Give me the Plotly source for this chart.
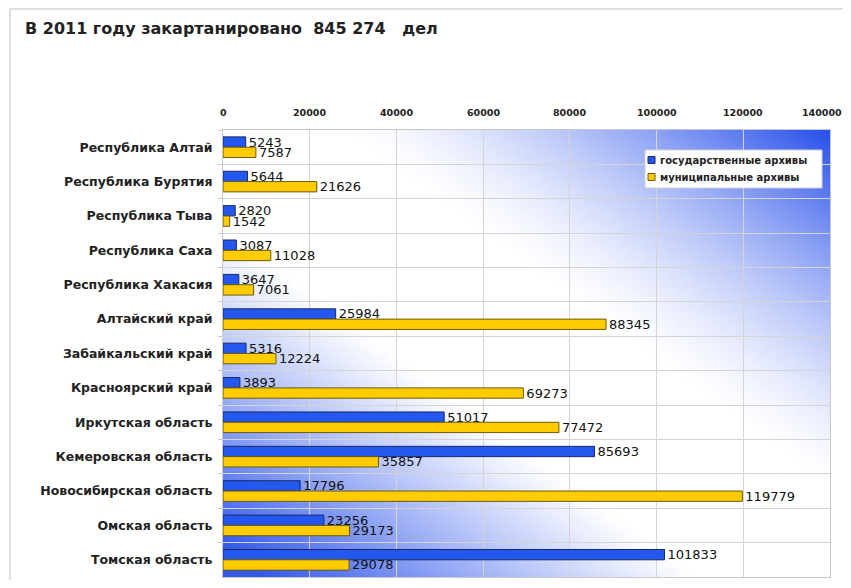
import base64, struct, zlib
import plotly.graph_objects as go

categories = [
    "Республика Алтай", "Республика Бурятия", "Республика Тыва", "Республика Саха",
    "Республика Хакасия", "Алтайский край", "Забайкальский край", "Красноярский край",
    "Иркутская область", "Кемеровская область", "Новосибирская область",
    "Омская область", "Томская область",
]
state_archives = [5243, 5644, 2820, 3087, 3647, 25984, 5316, 3893, 51017, 85693, 17796, 23256, 101833]
municipal_archives = [7587, 21626, 1542, 11028, 7061, 88345, 12224, 69273, 77472, 35857, 119779, 29173, 29078]
series_names = ["государственные архивы", "муниципальные архивы"]
x_ticks = [0, 20000, 40000, 60000, 80000, 100000, 120000, 140000]
title_text = "В 2011 году закартанировано\u00a0\u00a0845\u00a0274\u00a0\u00a0\u00a0дел"

BLUE, BLUE_EDGE = "#2457ee", "#1a2a66"
YELLOW, YELLOW_EDGE = "#ffcc00", "#6b5a10"
FONT = "DejaVu Sans, Liberation Sans, Arial, sans-serif"

# figure geometry (page body has an 8px margin, so everything is offset by 8px)
W, H = 843, 572
L, R, T, B = 215, 21, 122, 3
PW, PH = W - L - R, H - T - B


def px(xp):
    return (xp - L) / PW


def py(yp):
    return 1 - (yp - T) / PH


def gradient_png(w=200, h=150):
    blue = (40, 80, 235)
    rows = []
    for j in range(h):
        yn = j / (h - 1)
        row = bytearray([0])
        for i in range(w):
            xn = i / (w - 1)
            s = xn - yn
            if s >= 0:
                t = min(max((s - 0.2) / 0.8, 0), 1)
                a = t ** 1.4
            else:
                t = min(max((-s - 0.22) / 0.72, 0), 1)
                a = (t ** 1.1) * 0.95
            row += bytes(int(round(255 + (c - 255) * a)) for c in blue)
        rows.append(bytes(row))
    raw = b"".join(rows)

    def chunk(tag, data):
        c = tag + data
        return struct.pack(">I", len(data)) + c + struct.pack(">I", zlib.crc32(c) & 0xFFFFFFFF)

    png = b"\x89PNG\r\n\x1a\n" + chunk(b"IHDR", struct.pack(">IIBBBBB", w, h, 8, 2, 0, 0, 0))
    png += chunk(b"IDAT", zlib.compress(raw, 9)) + chunk(b"IEND", b"")
    return "data:image/png;base64," + base64.b64encode(png).decode()


fig = go.Figure()
for vals, name, col, edge in [(state_archives, series_names[0], BLUE, BLUE_EDGE),
                              (municipal_archives, series_names[1], YELLOW, YELLOW_EDGE)]:
    fig.add_trace(go.Bar(
        y=categories, x=vals, orientation="h", name=name,
        marker=dict(color=col, line=dict(color=edge, width=1)),
        text=vals, textposition="outside", cliponaxis=False, constraintext="none",
        textfont=dict(family=FONT, size=13, color="#111"),
        showlegend=False,
    ))

shapes = [
    # outer chart frame
    dict(type="line", xref="paper", yref="paper", x0=px(2), x1=px(2), y0=py(H), y1=py(1),
         line=dict(color="#d4d4d4", width=1.5)),
    dict(type="line", xref="paper", yref="paper", x0=px(2), x1=px(W), y0=py(1), y1=py(1),
         line=dict(color="#d4d4d4", width=1.5)),
    # legend box
    dict(type="rect", xref="paper", yref="paper", x0=px(637), x1=px(814), y0=py(180), y1=py(142),
         fillcolor="white", line=dict(color="#d0d0d0", width=1)),
]
annotations = []
for k, (name, col, edge) in enumerate([(series_names[0], BLUE, BLUE_EDGE),
                                       (series_names[1], YELLOW, YELLOW_EDGE)]):
    yc = 152 + k * 17
    shapes.append(dict(type="rect", xref="paper", yref="paper",
                       x0=px(640), x1=px(647), y0=py(yc + 3.5), y1=py(yc - 3.5),
                       fillcolor=col, line=dict(color=edge, width=1)))
    annotations.append(dict(text=name, xref="paper", yref="paper", x=px(650), y=py(yc),
                            xanchor="left", yanchor="middle", showarrow=False,
                            font=dict(family=FONT, size=10, color="#222", weight="bold")))

# top axis tick labels (the last one is nudged left so it stays inside the page)
for v in x_ticks:
    annotations.append(dict(text=str(v), xref="x", yref="paper", x=v, y=1,
                            xanchor="center", yanchor="middle", yshift=18,
                            xshift=-8 if v == x_ticks[-1] else 0, showarrow=False,
                            font=dict(family=FONT, size=9.5, color="#222", weight="bold")))

fig.update_layout(
    width=W, height=H,
    margin=dict(l=L, r=R, t=T, b=B, autoexpand=False),
    paper_bgcolor="white", plot_bgcolor="rgba(0,0,0,0)",
    barmode="group", bargap=0.4, bargroupgap=0,
    font=dict(family=FONT, color="#222"),
    showlegend=False,
    title=dict(text="<b>" + title_text + "</b>", x=17 / W, xanchor="left",
               y=1 - 20 / H, yanchor="middle",
               font=dict(family=FONT, size=16, color="#222")),
    images=[dict(source=gradient_png(), xref="paper", yref="paper", x=0, y=1,
                 sizex=1, sizey=1, xanchor="left", yanchor="top",
                 sizing="stretch", layer="below")],
    shapes=shapes,
    annotations=annotations,
)
fig.update_xaxes(
    side="top", range=[0, 140000], tickvals=x_ticks, showticklabels=False,
    showgrid=True, gridcolor="#d4d4d4", gridwidth=1, zeroline=False,
    showline=True, linecolor="#c8c8c8", mirror=True, ticks="",
)
fig.update_yaxes(
    autorange="reversed", tickson="boundaries", showgrid=True, gridcolor="#d4d4d4",
    showline=True, linecolor="#c8c8c8", mirror=True,
    ticks="outside", ticklen=4, tickcolor="#c8c8c8",
    tickfont=dict(family=FONT, size=12.5, color="#222", weight="bold"),
    ticklabelstandoff=7,
)

fig.write_html("out.html")
